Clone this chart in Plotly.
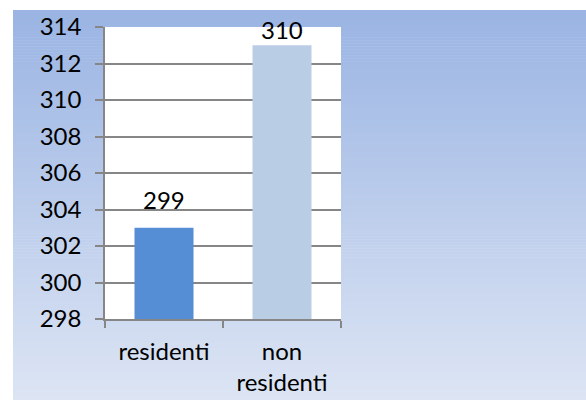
import plotly.graph_objects as go

categories = ["residenti", "non<br>residenti"]
values = [303, 313]
labels = ["299", "310"]
bar_colors = ["#558ED5", "#B9CDE5"]
y_ticks = [298, 300, 302, 304, 306, 308, 310, 312, 314]

W, H = 586, 400
FONT = "Lato"
L, R, T, B = 105, W - 341, 27, H - 319
PW, PH = W - L - R, H - T - B

def px_x(x):  # figure pixel -> paper fraction
    return (x - L) / PW

def px_y(y):
    return (H - B - y) / PH

fig = go.Figure()
fig.add_trace(go.Bar(x=categories, y=values, marker=dict(color=bar_colors, line=dict(width=0)),
                     width=0.5, showlegend=False, hoverinfo="skip"))

for c, v, t, ys in zip(categories, values, labels, [12, -1]):
    fig.add_annotation(x=c, y=v, text=t, showarrow=False, yanchor="bottom", yshift=ys,
                       font=dict(family=FONT, size=24, color="#000000"))

# vertical gradient background as strips
top = (0x9A, 0xB4, 0xE3)
bot = (0xDD, 0xE5, 0xF4)
xs = 13
ystart = 10
n = 130
step = (H + 2 - ystart) / n
for i in range(n):
    t = i / (n - 1)
    col = "rgb(%d,%d,%d)" % tuple(round(top[k] + (bot[k] - top[k]) * t) for k in range(3))
    ya = ystart + i * step
    yb = ya + step + 0.6
    fig.add_shape(type="rect", xref="paper", yref="paper", x0=px_x(xs), x1=px_x(W + 5),
                  y0=px_y(yb), y1=px_y(ya),
                  fillcolor=col, line=dict(width=0), layer="below")
fig.add_shape(type="rect", xref="x domain", yref="y domain", x0=0, x1=1, y0=0, y1=1,
              fillcolor="white", line=dict(width=0), layer="below")

fig.update_layout(
    width=W, height=H,
    margin=dict(l=L, r=R, t=T, b=B),
    paper_bgcolor="white", plot_bgcolor="white",
    font=dict(family=FONT, size=24, color="#000000"),
    bargap=0.5,
)
fig.update_yaxes(range=[298, 314], tickvals=y_ticks, showgrid=True, gridcolor="#868686", gridwidth=1.5,
                 ticks="outside", ticklen=8, tickcolor="#868686", tickwidth=1.5,
                 showline=True, linecolor="#868686", linewidth=1.5, zeroline=False, automargin=False,
                 ticklabelstandoff=9, tickfont=dict(family=FONT, size=24))
fig.update_xaxes(showline=True, linecolor="#868686", linewidth=1.5, ticks="outside", ticklen=7,
                 tickcolor="#868686", tickwidth=1.5, tickson="boundaries", showgrid=False, automargin=False,
                 ticklabelstandoff=10, tickfont=dict(family=FONT, size=24))

fig.write_html("out.html", config={"displayModeBar": False},
               post_script="document.body.style.margin='0px';document.body.style.overflow='hidden';")
